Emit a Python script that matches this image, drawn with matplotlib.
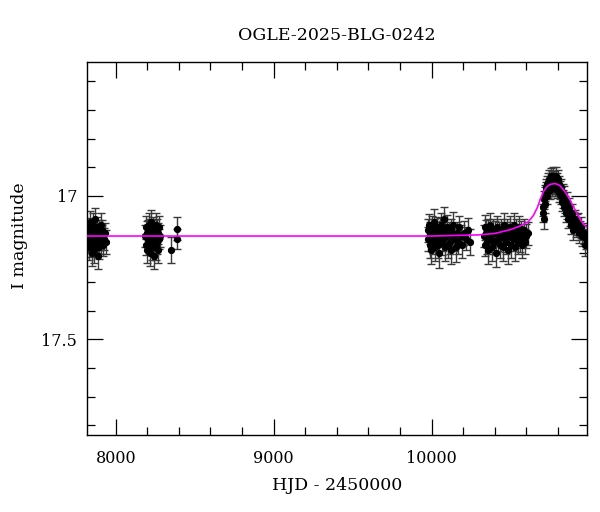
import matplotlib
matplotlib.use("Agg")
import matplotlib.pyplot as plt
from matplotlib.ticker import MultipleLocator, FixedLocator

title = "OGLE-2025-BLG-0242"
xlabel = "HJD - 2450000"
ylabel = "I magnitude"

# Season 1
t1 = [7822, 7825, 7828, 7831, 7834, 7836, 7839, 7842, 7845, 7848, 7851, 7853,
      7856, 7859, 7862, 7865, 7868, 7870, 7873, 7876, 7879, 7882, 7885, 7888,
      7891, 7894, 7897, 7900, 7904, 7908, 7912, 7916, 7920, 7925, 7930, 7936]
m1 = [17.13, 17.16, 17.11, 17.18, 17.14, 17.09, 17.17, 17.12, 17.15, 17.20, 17.13, 17.10,
      17.16, 17.14, 17.19, 17.12, 17.08, 17.15, 17.17, 17.13, 17.11, 17.16, 17.14, 17.21,
      17.12, 17.15, 17.18, 17.13, 17.10, 17.16, 17.14, 17.12, 17.17, 17.15, 17.13, 17.16]
e1 = [0.035, 0.040, 0.032, 0.045, 0.038, 0.036, 0.042, 0.034, 0.040, 0.044, 0.037, 0.039,
      0.041, 0.035, 0.043, 0.036, 0.038, 0.040, 0.042, 0.034, 0.037, 0.039, 0.041, 0.045,
      0.036, 0.038, 0.040, 0.035, 0.039, 0.042, 0.037, 0.036, 0.040, 0.038, 0.035, 0.041]

# Season 2
t2 = [8188, 8191, 8194, 8197, 8200, 8203, 8206, 8209, 8212, 8215, 8218, 8220,
      8221, 8224, 8227, 8230, 8233, 8236, 8239, 8240, 8242, 8245, 8248, 8251,
      8254, 8257, 8258, 8260, 8263, 8266, 8269, 8272, 8275, 8278]
m2 = [17.14, 17.11, 17.17, 17.13, 17.19, 17.12, 17.15, 17.10, 17.16, 17.14, 17.20, 17.12,
      17.09, 17.15, 17.13, 17.18, 17.11, 17.16, 17.14, 17.21, 17.12, 17.17, 17.13, 17.15,
      17.10, 17.18, 17.14, 17.12, 17.16, 17.13, 17.19, 17.11, 17.15, 17.14]
e2 = [0.038, 0.040, 0.036, 0.042, 0.044, 0.035, 0.039, 0.041, 0.037, 0.036, 0.045, 0.038,
      0.040, 0.037, 0.039, 0.043, 0.036, 0.041, 0.038, 0.044, 0.035, 0.040, 0.037, 0.039,
      0.042, 0.045, 0.036, 0.038, 0.041, 0.037, 0.043, 0.039, 0.036, 0.040]

# Sparse points
t3 = [8353, 8385, 8386]
m3 = [17.19, 17.115, 17.15]
e3 = [0.045, 0.040, 0.035]

# Season 3
t4 = [9975, 9980, 9984, 9988, 9992, 9996, 10000, 10004, 10009, 10013, 10018, 10022,
      10027, 10031, 10036, 10040, 10045, 10050, 10054, 10059, 10064, 10068, 10073, 10078,
      10083, 10088, 10093, 10098, 10103, 10108, 10114, 10120, 10126, 10132, 10138, 10145,
      10152, 10160, 10168, 10176, 10185, 10194, 10204, 10215, 10228, 10242]
m4 = [17.12, 17.15, 17.10, 17.17, 17.13, 17.19, 17.11, 17.14, 17.16, 17.12, 17.09, 17.18,
      17.13, 17.15, 17.11, 17.17, 17.14, 17.20, 17.12, 17.10, 17.16, 17.13, 17.15, 17.08,
      17.18, 17.12, 17.14, 17.11, 17.17, 17.13, 17.16, 17.19, 17.12, 17.14, 17.10, 17.15,
      17.18, 17.13, 17.16, 17.11, 17.14, 17.17, 17.13, 17.15, 17.12, 17.16]
e4 = [0.040, 0.042, 0.038, 0.045, 0.039, 0.048, 0.041, 0.037, 0.044, 0.040, 0.043, 0.046,
      0.039, 0.041, 0.038, 0.047, 0.040, 0.050, 0.042, 0.039, 0.045, 0.041, 0.043, 0.040,
      0.048, 0.039, 0.042, 0.044, 0.046, 0.040, 0.043, 0.049, 0.041, 0.039, 0.044, 0.042,
      0.050, 0.040, 0.043, 0.041, 0.039, 0.046, 0.042, 0.040, 0.043, 0.045]

# Season 4
t5 = [10330, 10335, 10340, 10345, 10350, 10355, 10360, 10366, 10372, 10378, 10384, 10390,
      10396, 10402, 10408, 10414, 10420, 10426, 10432, 10438, 10444, 10450, 10456, 10462,
      10468, 10474, 10480, 10486, 10492, 10498, 10504, 10510, 10516, 10522, 10528, 10534,
      10540, 10547, 10554, 10561, 10568, 10575, 10582, 10590, 10600, 10612]
m5 = [17.14, 17.11, 17.17, 17.13, 17.16, 17.12, 17.19, 17.14, 17.10, 17.15, 17.18, 17.12,
      17.16, 17.13, 17.20, 17.11, 17.15, 17.13, 17.17, 17.12, 17.14, 17.18, 17.10, 17.15,
      17.13, 17.16, 17.12, 17.19, 17.14, 17.11, 17.17, 17.13, 17.15, 17.10, 17.18, 17.12,
      17.14, 17.16, 17.11, 17.15, 17.13, 17.17, 17.12, 17.16, 17.14, 17.13]
e5 = [0.040, 0.043, 0.038, 0.045, 0.041, 0.039, 0.047, 0.040, 0.042, 0.044, 0.046, 0.039,
      0.041, 0.043, 0.048, 0.040, 0.042, 0.039, 0.045, 0.041, 0.043, 0.047, 0.040, 0.044,
      0.039, 0.042, 0.041, 0.048, 0.043, 0.040, 0.045, 0.039, 0.042, 0.041, 0.046, 0.040,
      0.043, 0.044, 0.040, 0.045, 0.042, 0.046, 0.041, 0.044, 0.043, 0.040]

# Season 5 (event)
t6 = [10705, 10708, 10710, 10712, 10715, 10718, 10720, 10723, 10726, 10729, 10732, 10735,
      10738, 10741, 10744, 10747, 10750, 10753, 10756, 10759, 10762, 10765, 10768, 10771,
      10774, 10777, 10780, 10783, 10786, 10789, 10792, 10795, 10798, 10801, 10805, 10809,
      10813, 10817, 10821, 10825, 10829, 10833, 10837, 10841, 10845, 10850, 10855, 10860,
      10865, 10870, 10876, 10882, 10888, 10896, 10900, 10906, 10912, 10918, 10925, 10932,
      10940, 10948, 10955, 10962, 10970, 10976]
m6 = [17.04, 17.06, 17.01, 17.08, 17.00, 16.99, 17.03, 16.98, 16.97, 17.00, 16.96, 16.98,
      16.95, 16.97, 16.94, 16.96, 16.98, 16.95, 16.93, 16.96, 16.94, 16.97, 16.95, 16.93,
      16.96, 16.94, 16.97, 16.95, 16.93, 16.96, 16.98, 16.95, 16.97, 16.94, 16.99, 16.96,
      16.98, 17.00, 16.97, 17.02, 16.99, 17.01, 17.04, 17.00, 17.03, 17.06, 17.02, 17.05,
      17.08, 17.04, 17.07, 17.10, 17.06, 17.12, 17.09, 17.08, 17.11, 17.10, 17.09, 17.13,
      17.12, 17.11, 17.14, 17.13, 17.17, 17.15]
e6 = [0.030, 0.032, 0.028, 0.034, 0.030, 0.029, 0.031, 0.028, 0.030, 0.029, 0.031, 0.028,
      0.030, 0.029, 0.032, 0.028, 0.030, 0.031, 0.029, 0.030, 0.028, 0.031, 0.029, 0.030,
      0.032, 0.028, 0.030, 0.029, 0.031, 0.030, 0.028, 0.031, 0.029, 0.030, 0.032, 0.029,
      0.031, 0.030, 0.028, 0.032, 0.030, 0.031, 0.029, 0.033, 0.030, 0.031, 0.032, 0.030,
      0.033, 0.031, 0.034, 0.032, 0.030, 0.035, 0.033, 0.031, 0.034, 0.036, 0.032, 0.035,
      0.034, 0.036, 0.035, 0.037, 0.040, 0.036]

# Model curve knots
model_t = [7800, 10000, 10300, 10400, 10497, 10560, 10613, 10645, 10670, 10687, 10708,
           10730, 10750, 10778, 10800, 10814, 10840, 10860, 10877, 10900, 10919, 10945,
           10965, 10990]
model_m = [17.140, 17.140, 17.136, 17.131, 17.118, 17.105, 17.090, 17.068, 17.040, 17.014,
           16.985, 16.968, 16.960, 16.957, 16.960, 16.965, 16.982, 16.998, 17.014, 17.040,
           17.060, 17.085, 17.100, 17.113]

plt.rcParams['font.family'] = ['DejaVu Serif']

fig = plt.figure(figsize=(6.0, 5.12), dpi=100)
ax = fig.add_axes([87/600, 1-435/512, 500/600, 373/512])

for t, m, e in [(t1, m1, e1), (t2, m2, e2), (t3, m3, e3), (t4, m4, e4), (t5, m5, e5), (t6, m6, e6)]:
    ax.errorbar(t, m, yerr=e, fmt='o', ms=4.2, mfc='black', mec='black',
                ecolor='#3a3a3a', elinewidth=1.0, capsize=3, capthick=1.0, zorder=2)

ax.plot(model_t, model_m, color='#ff00ff', lw=1.2, zorder=3)

ax.set_xlim(7818, 10984)
ax.set_ylim(17.834, 16.533)

ax.xaxis.set_major_locator(FixedLocator([8000, 9000, 10000]))
ax.xaxis.set_minor_locator(MultipleLocator(200))
ax.yaxis.set_major_locator(FixedLocator([17.0, 17.5]))
ax.yaxis.set_minor_locator(MultipleLocator(0.1))
ax.set_xticklabels(['8000', '9000', '10000'])
ax.set_yticklabels(['17', '17.5'])

ax.tick_params(which='both', direction='in', top=True, right=True, color='black', width=0.9)
ax.tick_params(which='major', length=11.5, labelsize=11.5)
ax.tick_params(axis='x', which='major', pad=11)
ax.tick_params(axis='y', which='major', pad=7)
ax.tick_params(which='minor', length=5.8)
for s in ax.spines.values():
    s.set_linewidth(1.0)

fig.text(337/600, 1-36/512, title, ha='center', va='center', fontsize=12.5)
fig.text(337/600, 1-485/512, xlabel, ha='center', va='center', fontsize=12.5)
fig.text(20/600, 1-236/512, ylabel, ha='center', va='center', rotation=90, fontsize=12.5)

fig.savefig('out.png', dpi=100)
